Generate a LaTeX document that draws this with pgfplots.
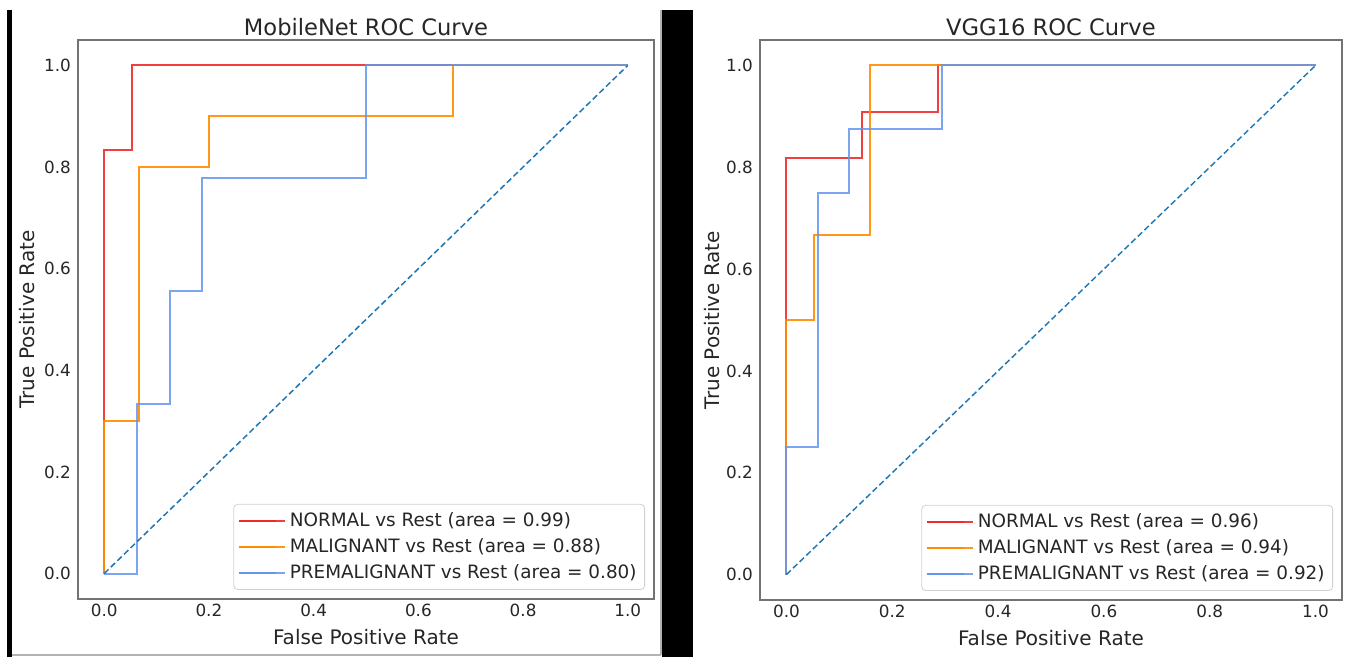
\documentclass[border=0pt]{standalone}
\usepackage{fontspec}
\setmainfont{DejaVu Sans}
\usepackage{pgfplots}
\pgfplotsset{compat=1.18}

\definecolor{cRed}{HTML}{EE2A2A}
\definecolor{cOrange}{HTML}{FF8C00}
\definecolor{cBlue}{HTML}{6495ED}
\definecolor{cDiag}{HTML}{1F77B4}

\pgfplotsset{
  roc/.style={
    scale only axis,
    anchor=south west,
    xmin=-0.05, xmax=1.05, ymin=-0.05, ymax=1.05,
    xtick={0,0.2,0.4,0.6,0.8,1}, ytick={0,0.2,0.4,0.6,0.8,1},
    xticklabels={0.0,0.2,0.4,0.6,0.8,1.0},
    yticklabels={0.0,0.2,0.4,0.6,0.8,1.0},
    major tick length=0pt,
    tick label style={font=\fontsize{8.4}{10}\selectfont, text=black!85},
    xticklabel style={yshift=1pt},
    label style={font=\fontsize{10}{12}\selectfont, text=black!85},
    xlabel={False Positive Rate},
    ylabel={True Positive Rate},
    xlabel style={at={(axis description cs:0.5,0)}, anchor=base, yshift=-23pt},
    title style={at={(axis description cs:0.5,1)}, anchor=base, yshift=-3.8pt,
      font=\fontsize{11.3}{13}\selectfont, text=black!85},
    axis line style={black!55, line width=0.9pt},
    legend cell align=left,
    legend style={at={(axis description cs:1,0)}, anchor=south east,
      xshift=-4.5pt, yshift=4.5pt, draw=black!18, rounded corners=2pt,
      fill=white, fill opacity=0.85, text opacity=1,
      font=\fontsize{9.2}{11}\selectfont, text=black!85,
      inner sep=2pt, row sep=0.6pt,
      nodes={inner sep=2pt}},
    legend image code/.code={
      \draw[#1, opacity=1] (0pt,0pt) -- (18.5pt,0pt);
      \path (0pt,0pt) -- (23pt,0pt);},
    every axis plot/.append style={line width=1pt},
  },
  diag/.style={cDiag, line width=0.75pt, dash pattern=on 3pt off 1.6pt, forget plot},
}

\begin{document}
\begin{tikzpicture}
\useasboundingbox (0pt,0pt) rectangle (675.5pt,328.5pt);
% frame pieces of the screenshot
\draw[black!30, line width=0.6pt] (6pt,1pt) -- (330.5pt,1pt);
\draw[black!30, line width=0.6pt] (330.5pt,1pt) -- (330.5pt,323.5pt);
\fill[black] (3.5pt,0pt) rectangle (6pt,323.5pt);
\fill[black] (331pt,0pt) rectangle (346.5pt,323.5pt);

\begin{axis}[roc, at={(39pt,29pt)}, width=288pt, height=279.5pt,
  title={MobileNet ROC Curve},
  ylabel style={at={(axis description cs:-0.075,0.5)}, anchor=base}]
\addplot[cRed, opacity=0.9] coordinates {(0,0) (0,0.833) (0.0526,0.833) (0.0526,1) (1,1)};
\addlegendentry{NORMAL vs Rest (area = 0.99)}
\addplot[cOrange, opacity=0.9] coordinates {(0,0) (0,0.3) (0.0667,0.3) (0.0667,0.8) (0.2,0.8) (0.2,0.9) (0.667,0.9) (0.667,1) (1,1)};
\addlegendentry{MALIGNANT vs Rest (area = 0.88)}
\addplot[cBlue, opacity=0.85] coordinates {(0,0) (0.0625,0) (0.0625,0.333) (0.125,0.333) (0.125,0.556) (0.1875,0.556) (0.1875,0.778) (0.5,0.778) (0.5,1) (1,1)};
\addlegendentry{PREMALIGNANT vs Rest (area = 0.80)}
\addplot[diag] coordinates {(0,0) (1,1)};
\end{axis}

\begin{axis}[roc, at={(380pt,28.5pt)}, width=291pt, height=280pt,
  title={VGG16 ROC Curve},
  ylabel style={at={(axis description cs:-0.07,0.5)}, anchor=base}]
\addplot[cRed, opacity=0.9] coordinates {(0,0) (0,0.818) (0.143,0.818) (0.143,0.909) (0.286,0.909) (0.286,1) (1,1)};
\addlegendentry{NORMAL vs Rest (area = 0.96)}
\addplot[cOrange, opacity=0.9] coordinates {(0,0) (0,0.5) (0.0526,0.5) (0.0526,0.667) (0.158,0.667) (0.158,1) (1,1)};
\addlegendentry{MALIGNANT vs Rest (area = 0.94)}
\addplot[cBlue, opacity=0.85] coordinates {(0,0) (0,0.25) (0.0588,0.25) (0.0588,0.75) (0.1176,0.75) (0.1176,0.875) (0.294,0.875) (0.294,1) (1,1)};
\addlegendentry{PREMALIGNANT vs Rest (area = 0.92)}
\addplot[diag] coordinates {(0,0) (1,1)};
\end{axis}
\end{tikzpicture}
\end{document}
